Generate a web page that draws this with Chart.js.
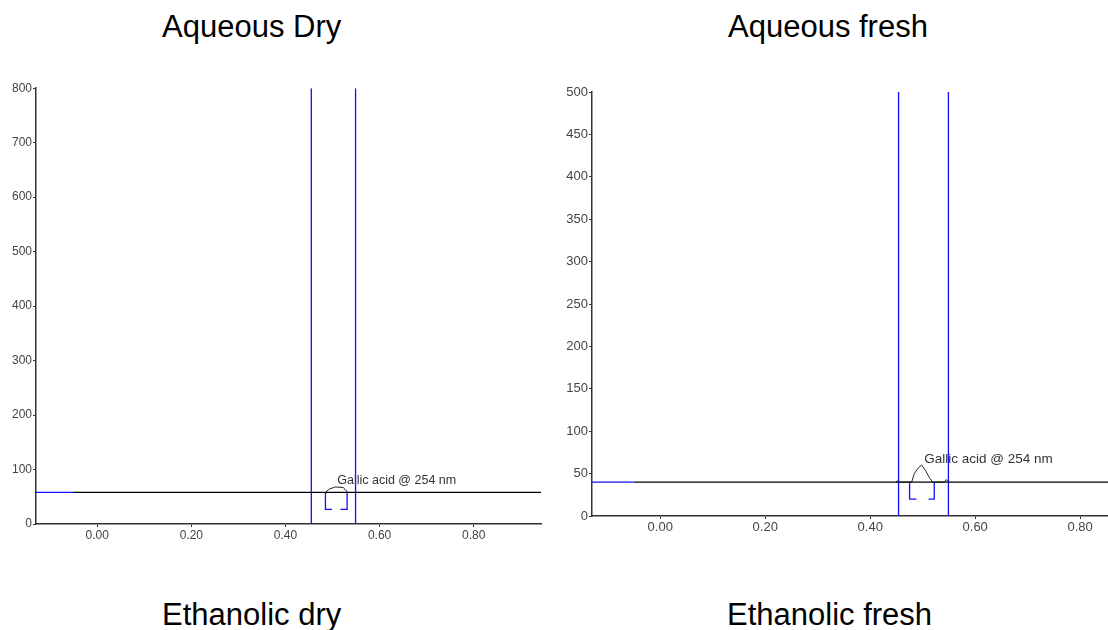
<!DOCTYPE html>
<html>
<head>
<meta charset="utf-8">
<script src="https://cdn.jsdelivr.net/npm/chart.js@4"></script>
<style>
  body { margin: 0; width: 1108px; height: 630px; background: #fff; position: relative; overflow: hidden; }
  .title { position: absolute; font-family: "Liberation Sans", Arial, sans-serif; font-size: 31px; line-height: 31px; color: #000; white-space: nowrap; }
  .box { position: absolute; }
</style>
</head>
<body>
<div class="title" style="left:162px; top:11px;">Aqueous Dry</div>
<div class="title" style="left:728px; top:11px;">Aqueous fresh</div>
<div class="title" style="left:162px; top:599px;">Ethanolic dry</div>
<div class="title" style="left:727px; top:599px;">Ethanolic fresh</div>

<div class="box" style="left:0; top:80px; width:545px; height:462px;"><canvas id="dry-chart"></canvas></div>
<div class="box" style="left:554px; top:80px; width:554px; height:454px;"><canvas id="fresh-chart"></canvas></div>

<script>
// Tick labels
const xTicks = [0, 0.2, 0.4, 0.6, 0.8];
const dryYTicks = [0, 100, 200, 300, 400, 500, 600, 700, 800];
const freshYTicks = [0, 50, 100, 150, 200, 250, 300, 350, 400, 450, 500];

// Aqueous dry - retention time (x) vs response (y)
const dryRange = [-0.13, 0.943];
const dryBaseY = 58;
const dryBlueEndX = -0.051;
const dryPeakX = [0.485, 0.493, 0.506, 0.523, 0.532];
const dryPeakY = [58, 64, 68, 67, 58];
const dryBracketX = [0.485, 0.485, 0.499, 0.508, 0.517, 0.531, 0.531];
const dryBracketY = [58, 27, 27, null, 27, 27, 58];
const dryMarkerX = [0.455, 0.549];
const dryLabel = { text: 'Gallic acid @ 254 nm', x: 0.51, y: 79 };

// Aqueous fresh
const freshRange = [-0.13, 0.853];
const freshBaseY = 40;
const freshBlueEndX = -0.051;
const freshPeakX = [0.449, 0.452, 0.456, 0.479, 0.484, 0.492, 0.498, 0.505, 0.513, 0.519, 0.541, 0.545, 0.549];
const freshPeakY = [40, 41.5, 40, 40, 50, 57, 60, 54, 45, 40, 40, 43, 40];
const freshBracketX = [0.475, 0.475, 0.488, 0.5, 0.511, 0.522, 0.522];
const freshBracketY = [40, 20, 20, null, 20, 20, 40];
const freshMarkerX = [0.454, 0.549];
const freshLabel = { text: 'Gallic acid @ 254 nm', x: 0.503, y: 67 };

const BLUE = '#1010ff';
const FONT_FAMILY = '"Liberation Sans", Arial, sans-serif';

function toPoints(xs, ys) {
  return xs.map((x, i) => ({ x: x, y: ys[i] }));
}

function lineSet(data, color, width) {
  return { data: data, borderColor: color, borderWidth: width, pointRadius: 0, fill: false, tension: 0, spanGaps: false };
}

// Draw the peak name next to the peak, anchored in data units
const peakLabelPlugin = {
  id: 'peakLabel',
  afterDatasetsDraw(chart, args, opts) {
    if (!opts || !opts.text) return;
    const c = chart.ctx;
    const px = chart.scales.x.getPixelForValue(opts.x);
    const py = chart.scales.y.getPixelForValue(opts.y);
    c.save();
    c.font = opts.size + 'px ' + FONT_FAMILY;
    c.fillStyle = '#333';
    c.textAlign = 'left';
    c.textBaseline = 'middle';
    c.fillText(opts.text, px, py);
    c.restore();
  }
};

function buildChart(id, cfg) {
  const ctx = document.getElementById(id);
  const yMax = cfg.yTicks[cfg.yTicks.length - 1];
  const tickFont = { family: FONT_FAMILY, size: cfg.fontSize };
  const datasets = [
    lineSet(toPoints([cfg.range[0], cfg.blueEnd], [cfg.baseY, cfg.baseY]), BLUE, 1.3),
    lineSet(toPoints([cfg.blueEnd, cfg.range[1]], [cfg.baseY, cfg.baseY]), '#000', 1.2),
    lineSet(toPoints(cfg.peakX, cfg.peakY), '#222', 1),
    lineSet(toPoints(cfg.bracketX, cfg.bracketY), BLUE, 1.3)
  ];
  cfg.markers.forEach(m => {
    datasets.push(lineSet(toPoints([m, m], [0, yMax]), BLUE, 1.3));
  });

  new Chart(ctx, {
    type: 'line',
    data: { datasets: datasets },
    plugins: [peakLabelPlugin],
    options: {
      responsive: true,
      maintainAspectRatio: false,
      animation: false,
      events: [],
      layout: { padding: cfg.padding },
      plugins: {
        legend: { display: false },
        tooltip: { enabled: false },
        peakLabel: Object.assign({ size: cfg.labelSize }, cfg.label)
      },
      scales: {
        x: {
          type: 'linear',
          min: cfg.range[0],
          max: cfg.range[1],
          afterBuildTicks: s => { s.ticks = xTicks.map(v => ({ value: v })); },
          afterFit: s => { s.height = 18; },
          grid: { drawOnChartArea: false, tickLength: 3, color: '#333' },
          border: { color: '#333', width: 1.5 },
          ticks: { autoSkip: false, maxRotation: 0, padding: 1, color: '#444', font: tickFont,
                   callback: v => Number(v).toFixed(2) }
        },
        y: {
          min: 0,
          max: yMax,
          afterBuildTicks: s => { s.ticks = cfg.yTicks.map(v => ({ value: v })); },
          afterFit: s => { s.width = cfg.yWidth; },
          grid: { drawOnChartArea: false, tickLength: 3, color: '#333' },
          border: { color: '#333', width: 1.5 },
          ticks: { autoSkip: false, padding: 1, color: '#444', font: tickFont }
        }
      }
    }
  });
}

buildChart('dry-chart', {
  range: dryRange, baseY: dryBaseY, blueEnd: dryBlueEndX,
  peakX: dryPeakX, peakY: dryPeakY, bracketX: dryBracketX, bracketY: dryBracketY,
  markers: dryMarkerX, label: dryLabel, yTicks: dryYTicks,
  yWidth: 36, fontSize: 12, labelSize: 12.5,
  padding: { top: 6, right: 4, left: 0, bottom: 0 }
});

buildChart('fresh-chart', {
  range: freshRange, baseY: freshBaseY, blueEnd: freshBlueEndX,
  peakX: freshPeakX, peakY: freshPeakY, bracketX: freshBracketX, bracketY: freshBracketY,
  markers: freshMarkerX, label: freshLabel, yTicks: freshYTicks,
  yWidth: 38, fontSize: 13, labelSize: 13.5,
  padding: { top: 12, right: 0, left: 0, bottom: 0 }
});
</script>
</body>
</html>
